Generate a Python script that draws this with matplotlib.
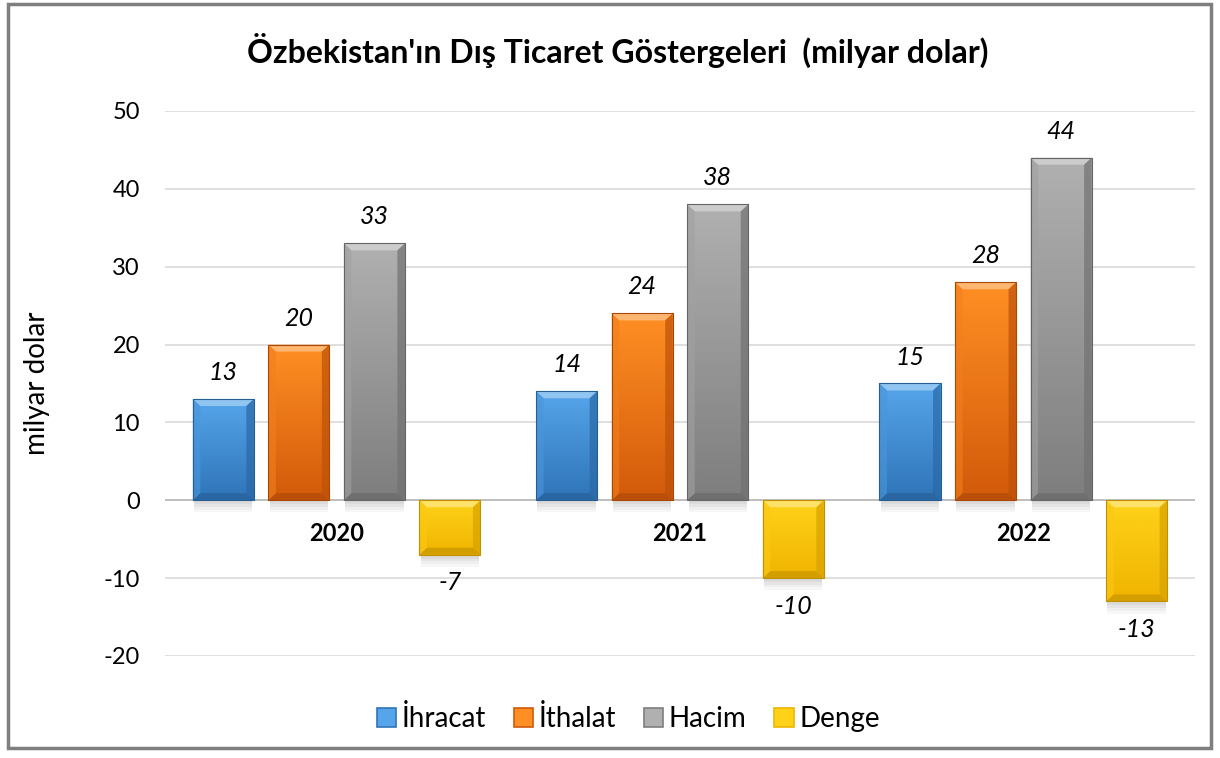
import matplotlib

matplotlib.use("Agg")
import matplotlib.pyplot as plt
import numpy as np
from matplotlib.colors import LinearSegmentedColormap, to_rgb
from matplotlib.patches import Patch, Polygon, Rectangle

years = ["2020", "2021", "2022"]
series = ["İhracat", "İthalat", "Hacim", "Denge"]
ihracat = [13, 14, 15]
ithalat = [20, 24, 28]
hacim = [33, 38, 44]
denge = [-7, -10, -13]
yticks = [-20, -10, 0, 10, 20, 30, 40, 50]

# light / dark ends of each bar gradient
colors = [
    ("#56A5EA", "#2F74B8"),
    ("#FF8F24", "#D25A0A"),
    ("#B0B0B0", "#7E7E7E"),
    ("#FFD21A", "#F0B400"),
]

plt.rcParams["font.family"] = ["Lato", "DejaVu Sans"]

fig = plt.figure(figsize=(12.2, 7.58), dpi=100)
ax = fig.add_axes([0.1352, 0.1346, 0.8443, 0.719])

STEP = 0.22
WIDTH = 0.178
BX = 0.022
BY = 0.9


def mix(c, other, t):
    a = np.array(to_rgb(c))
    b = np.array(to_rgb(other))
    return tuple(a * (1 - t) + b * t)


def fancy_bar(x0, y0, x1, y1, light, dark):
    lo, hi = min(y0, y1), max(y0, y1)
    # soft shadow
    for k, a in enumerate([0.04, 0.04, 0.03, 0.03]):
        ax.add_patch(Rectangle((x0 + 0.004, lo - 0.5 - k * 0.35), x1 - x0 - 0.008, hi - lo,
                               facecolor="#000000", alpha=a, lw=0, zorder=2))
    rect = Rectangle((x0, lo), x1 - x0, hi - lo, facecolor="none", lw=0, zorder=3)
    ax.add_patch(rect)
    cmap = LinearSegmentedColormap.from_list("g", [dark, light])
    grad = np.linspace(0, 1, 64).reshape(-1, 1)
    im = ax.imshow(grad, cmap=cmap, extent=(x0, x1, lo, hi), origin="lower",
                   aspect="auto", zorder=3, interpolation="bilinear")
    im.set_clip_path(rect)
    bx = min(BX, (x1 - x0) / 3)
    by = min(BY, (hi - lo) / 3)
    top = Polygon([(x0, hi), (x1, hi), (x1 - bx, hi - by), (x0 + bx, hi - by)],
                  facecolor=mix(light, "white", 0.35), lw=0, zorder=4)
    bot = Polygon([(x0, lo), (x1, lo), (x1 - bx, lo + by), (x0 + bx, lo + by)],
                  facecolor=mix(dark, "black", 0.12), lw=0, zorder=4)
    left = Polygon([(x0, lo), (x0, hi), (x0 + bx, hi - by), (x0 + bx, lo + by)],
                   facecolor=mix(light, dark, 0.3), alpha=0.6, lw=0, zorder=4)
    right = Polygon([(x1, lo), (x1, hi), (x1 - bx, hi - by), (x1 - bx, lo + by)],
                    facecolor=mix(dark, "black", 0.1), alpha=0.7, lw=0, zorder=4)
    for p in (top, bot, left, right):
        ax.add_patch(p)
    ax.add_patch(Rectangle((x0, lo), x1 - x0, hi - lo, facecolor="none",
                           edgecolor=mix(dark, "black", 0.2), lw=0.8, zorder=5))


data = [ihracat, ithalat, hacim, denge]
for si, vals in enumerate(data):
    light, dark = colors[si]
    for ci, v in enumerate(vals):
        xc = ci + (si - 1.5) * STEP
        fancy_bar(xc - WIDTH / 2, 0, xc + WIDTH / 2, v, light, dark)
        if v >= 0:
            ax.text(xc, v + 3.4, f"{v}", ha="center", va="center", fontsize=18,
                    style="italic", zorder=6)
        else:
            ax.text(xc, v - 3.6, f"{v}", ha="center", va="center", fontsize=18,
                    style="italic", zorder=6)

for ci, y in enumerate(years):
    ax.text(ci, -4.3, y, ha="center", va="center", fontsize=17, fontweight="bold", zorder=6)

ax.set_xlim(-0.5, 2.5)
ax.set_ylim(-20, 50)
ax.set_yticks(yticks)
ax.set_yticklabels([str(t) for t in yticks], fontsize=17)
ax.set_xticks([])
ax.tick_params(axis="y", length=0, pad=18)
ax.grid(axis="y", color="#D9D9D9", lw=1.2, zorder=0)
ax.axhline(0, color="#BFBFBF", lw=1.4, zorder=1)
ax.set_axisbelow(True)
for s in ax.spines.values():
    s.set_visible(False)
ax.set_ylabel("milyar dolar", fontsize=20)
ax.yaxis.set_label_coords(-0.112, 0.5)

fig.text(0.506, 0.934, "Özbekistan'ın Dış Ticaret Göstergeleri  (milyar dolar)",
         ha="center", va="center", fontsize=23, fontweight="bold")

handles = [Patch(facecolor=c[0], edgecolor=c[1], lw=1.2) for c in colors]
fig.legend(handles, series, loc="center", bbox_to_anchor=(0.515, 0.052), ncol=4,
           frameon=False, fontsize=20, handlelength=0.7, handleheight=0.7,
           handletextpad=0.2, columnspacing=1.0)

# outer chart border
fig.add_artist(Rectangle((8 / 1220, 10 / 758), 1203 / 1220, 744 / 758,
                         transform=fig.transFigure, facecolor="none",
                         edgecolor="#7F7F7F", lw=2.5))

fig.savefig("out.png", dpi=100)
